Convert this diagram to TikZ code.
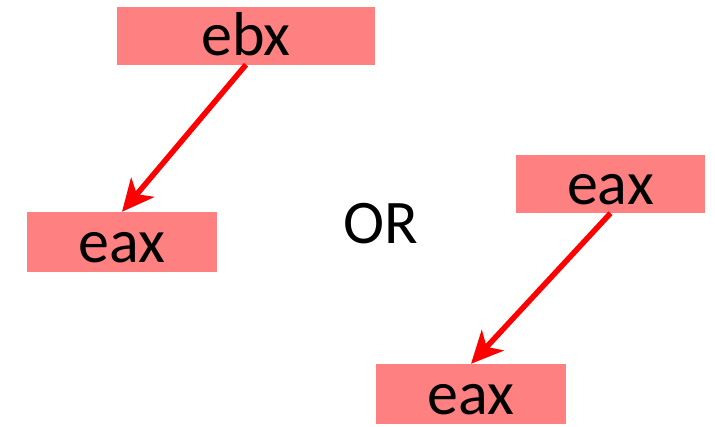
\documentclass[tikz,border=0pt]{standalone}
\usepackage{fontspec}
\setmainfont{Carlito}
\usetikzlibrary{arrows.meta}
\definecolor{regpink}{HTML}{FF8080}
\tikzset{
  reg/.style={rectangle,fill=regpink,inner sep=0pt,minimum height=58pt,
    text height=46pt,text depth=6pt,font=\fontsize{62}{62}\selectfont},
  moveto/.style={draw=red,line width=5.5pt,-{Stealth[length=32pt,width=30pt,inset=9pt]}}
}
\begin{document}
\begin{tikzpicture}[x=1pt,y=-1pt]
\useasboundingbox (0,0) rectangle (715,426);
% registers
\node[reg,minimum width=258pt] (ebx) at (246,35.5){ebx};
\node[reg,minimum width=190pt,minimum height=60pt] (eaxl) at (122,242){eax};
\node[reg,minimum width=189pt] (eaxr) at (610.5,184){eax};
\node[reg,minimum width=190pt,minimum height=60pt] (eaxb) at (471,394){eax};
\node[anchor=base,font=\fontsize{62}{62}\selectfont] (or) at (381,243){OR};
% moves
\draw[moveto] (ebx.south) -- (eaxl.north);
\draw[moveto] (eaxr.south) -- (eaxb.north);
\end{tikzpicture}
\end{document}
